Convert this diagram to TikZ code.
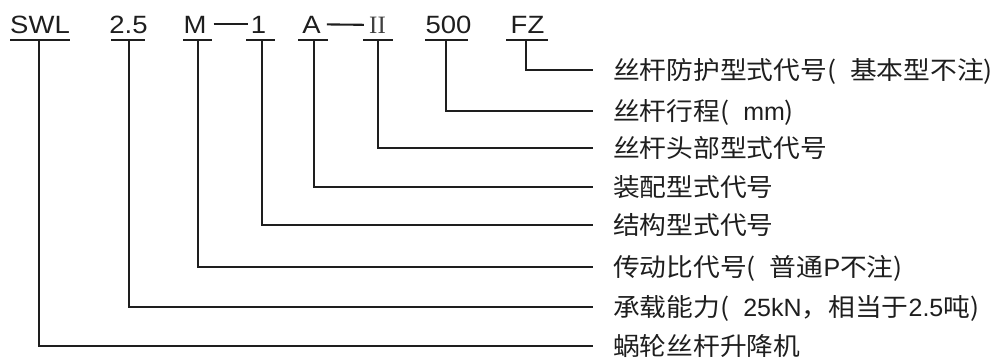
\documentclass[tikz,border=0pt]{standalone}
\usepackage{fontspec}
\setmainfont{Liberation Sans}
\newfontfamily\cjk[FakeStretch=1.07]{Noto Sans CJK SC}
\newfontfamily\codefont[FakeStretch=1.1]{Liberation Sans}
\newfontfamily\romfont{Liberation Serif}
\definecolor{ink}{HTML}{1E1E1E}
\tikzset{
  code/.style={inner sep=0pt, anchor=base, text=ink, font=\codefont\fontsize{25}{30}\selectfont},
  lab/.style={inner sep=0pt, anchor=west, text height=21pt, text depth=2pt, text=ink, font=\cjk\fontsize{25}{30}\selectfont},
  ln/.style={draw=ink, line width=2.1pt},
}
\begin{document}
\begin{tikzpicture}[x=1pt,y=-1pt]
\useasboundingbox (0,0) rectangle (1000,357);
% code letters
\node[code] (swl) at (40,33) {SWL};
\node[code] (cap) at (128.5,33) {2.5};
\node[code] (m) at (195,33) {M};
\node[code] (one) at (258.5,33) {1};
\node[code] (a) at (311.5,33) {A};
\node[code, font=\romfont\fontsize{25}{28}\selectfont, text=ink!85] (two) at (377.5,33) {II};
\node[code] (len) at (448.5,33) {500};
\node[code] (fz) at (527.5,33) {FZ};
% dashes between codes
\draw[ln] ([xshift=7pt]m.east) -- ([xshift=-3pt]one.west);
\draw[ln] ([xshift=6pt]a.east) -- ([xshift=-5pt]two.west);
% labels
\node[lab] (l1) at (613,70) {丝杆防护型式代号(\hspace{14pt}基本型不注)};
\node[lab] (l2) at (613,111) {丝杆行程(\hspace{14pt}{\rmfamily mm})};
\node[lab] (l3) at (613,148) {丝杆头部型式代号};
\node[lab] (l4) at (613,187) {装配型式代号};
\node[lab] (l5) at (613,225) {结构型式代号};
\node[lab] (l6) at (613,267) {传动比代号(\hspace{14pt}普通{\rmfamily P}不注)};
\node[lab] (l7) at (613,307) {承载能力(\hspace{14pt}{\rmfamily 25kN}，相当于{\rmfamily 2.5}吨)};
\node[lab] (l8) at (613,346) {蜗轮丝杆升降机};
% underlines
\coordinate (swlL) at (10,40);  \coordinate (swlR) at (70,40);  \coordinate (swlT) at (39,40);
\coordinate (capL) at (111,40); \coordinate (capR) at (145,40); \coordinate (capT) at (129,40);
\coordinate (mL) at (183,40);   \coordinate (mR) at (212,40);   \coordinate (mT) at (198,40);
\coordinate (oneL) at (246,40); \coordinate (oneR) at (275,40); \coordinate (oneT) at (262,40);
\coordinate (aL) at (298,40);   \coordinate (aR) at (328,40);   \coordinate (aT) at (314,40);
\coordinate (twoL) at (363,40); \coordinate (twoR) at (393,40); \coordinate (twoT) at (378,40);
\coordinate (lenL) at (425,40); \coordinate (lenR) at (468,40); \coordinate (lenT) at (446,40);
\coordinate (fzL) at (506,40);  \coordinate (fzR) at (548,40);  \coordinate (fzT) at (526,40);
\foreach \n in {swl,cap,m,one,a,two,len,fz}{\draw[ln] (\n L) -- (\n R);}
% connectors
\draw[ln] (fzT)  |- ([xshift=-20pt]l1.west);
\draw[ln] (lenT) |- ([xshift=-20pt]l2.west);
\draw[ln] (twoT) |- ([xshift=-20pt]l3.west);
\draw[ln] (aT)   |- ([xshift=-20pt]l4.west);
\draw[ln] (oneT) |- ([xshift=-20pt]l5.west);
\draw[ln] (mT)   |- ([xshift=-20pt]l6.west);
\draw[ln] (capT) |- ([xshift=-20pt]l7.west);
\draw[ln] (swlT) |- ([xshift=-20pt]l8.west);
\end{tikzpicture}
\end{document}
